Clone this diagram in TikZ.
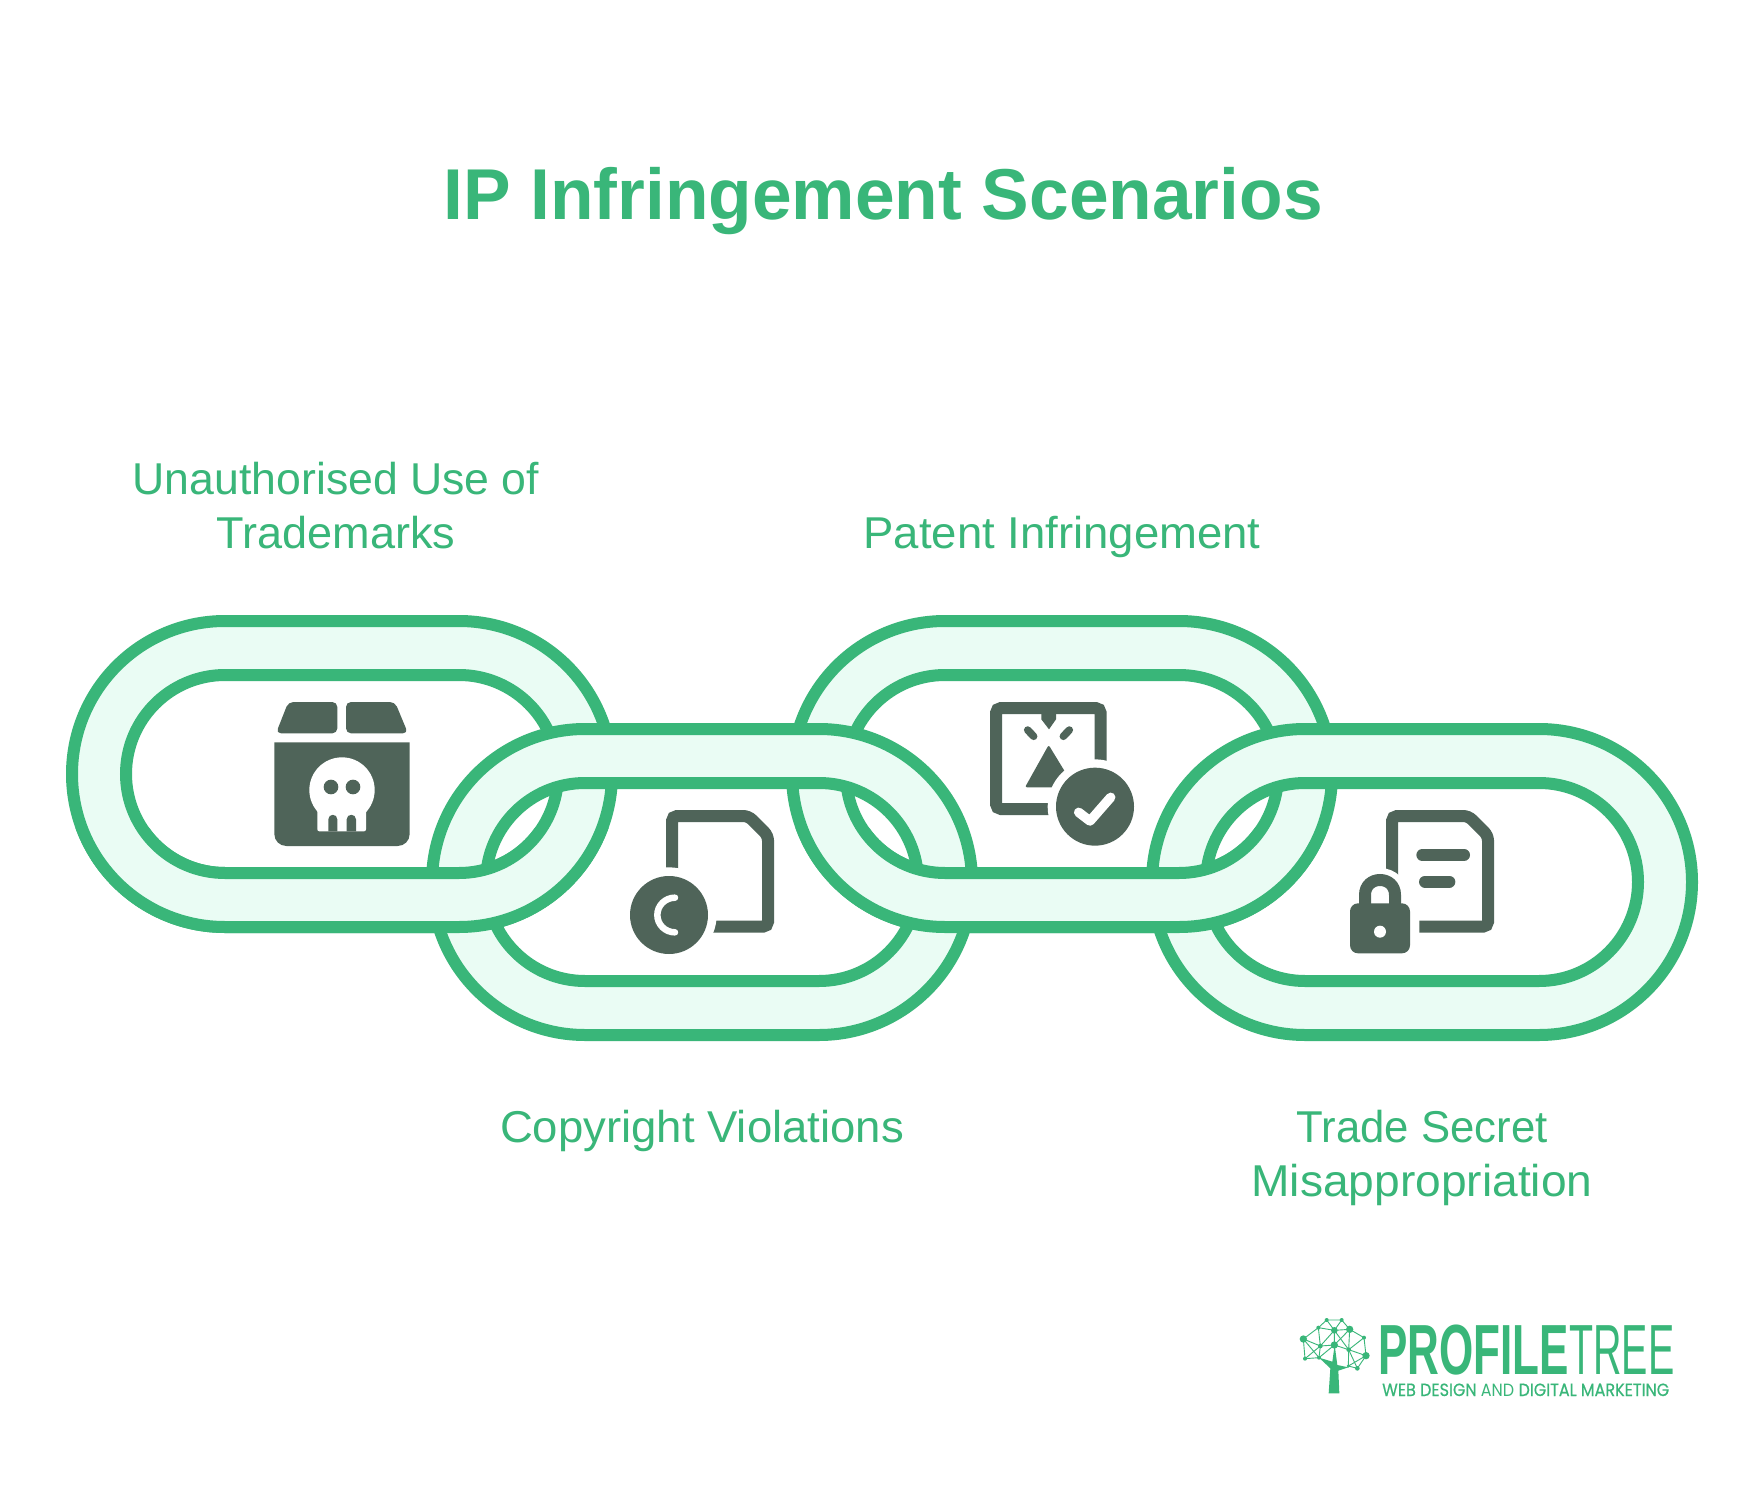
\documentclass[tikz,border=0pt]{standalone}
\usepackage{fontspec}
\setmainfont{Liberation Sans}
\newfontfamily\popfont{Poppins}
\newfontfamily\popmed[FakeBold=0.5]{Poppins}
\definecolor{lk}{HTML}{39B679}
\definecolor{lkfill}{HTML}{EAFCF4}
\definecolor{ic}{HTML}{4F6459}
\definecolor{tx}{HTML}{39B679}
\tikzset{
  ringstyle/.style={draw=lk,line width=12pt,fill=lkfill,even odd rule},
  lbl/.style={text=tx,font=\fontsize{44.6}{54}\selectfont,align=center,inner sep=0pt,anchor=base},
  icl/.style={draw=ic,line width=12pt,line cap=butt,rounded corners=5pt},
  icz/.style={x=0.33333pt,y=-0.33333pt},
  lnode/.style={fill=tx,draw=none},
  lline/.style={draw=tx,line width=0.9pt},
  logotext/.style={inner sep=0pt,anchor=base west,text=tx}
}
\newcommand{\ringpath}[2]{%
  \path[ringstyle] (#1-153,#2-153) [rounded corners=153pt] rectangle (#1+234+153,#2+153)
    [rounded corners=99pt] (#1-99,#2-99) rectangle (#1+234+99,#2+99);}
\begin{document}
\begin{tikzpicture}[x=1pt,y=-1pt]
\useasboundingbox (0,0) rectangle (1764,1495);
\fill[white] (0,0) rectangle (1764,1495);
% odd links beneath
\ringpath{225}{774}
\ringpath{945}{774}
% even links
\ringpath{585}{882}
\ringpath{1305}{882}
% lower parts of odd links on top
\begin{scope}
\clip (0,828) rectangle (1764,1000);
\ringpath{225}{774}
\ringpath{945}{774}
\end{scope}
% texts
\node[text=tx,font=\bfseries\fontsize{72}{80}\selectfont,inner sep=0pt,anchor=base] (title) at (883,220) {\scalebox{0.99}[1]{IP Infringement Scenarios}};
\node[lbl] (t1a) at (336,494) {Unauthorised Use of};
\node[lbl] (t1b) at (336,548) {\scalebox{1.01}[1]{Trademarks}};
\node[lbl] (t3) at (1062,548) {\scalebox{1.02}[1]{Patent Infringement}};
\node[lbl] (t2) at (702,1142) {\scalebox{1.02}[1]{Copyright Violations}};
\node[lbl] (t4a) at (1422,1142) {\scalebox{0.98}[1]{Trade Secret}};
\node[lbl] (t4b) at (1422,1196) {\scalebox{1.034}[1]{Misappropriation}};
% icon 1
\begin{scope}[shift={(260,690)},icz]
\fill[ic,rounded corners=5pt] (48,130) -- (232,130) -- (232,36) -- (85,36) -- cycle;
\fill[ic,rounded corners=5pt] (258,130) -- (444,130) -- (405,36) -- (258,36) -- cycle;
\fill[ic] (43,157) -- (449,157) -- (449,432) .. controls (449,452) and (433,468) .. (413,468) -- (79,468) .. controls (59,468) and (43,452) .. (43,432) -- cycle;
\fill[white] (246,300) circle[radius=98];
\fill[white,rounded corners=2pt] (172,340) rectangle (318,424);
\fill[ic] (205,424) -- (205,388) .. controls (205,370) and (232,370) .. (232,388) -- (232,424) -- cycle;
\fill[ic] (260,424) -- (260,388) .. controls (260,370) and (288,370) .. (288,388) -- (288,424) -- cycle;
\fill[ic] (213,291) circle[radius=22];
\fill[ic] (279,291) circle[radius=22];
\end{scope}
% icon 2
\begin{scope}[shift={(620,800)},icz]
\draw[icl] (156,250) -- (156,48) -- (385,48) -- (444,107) -- (444,380) -- (250,380);
\fill[white] (147,345) circle[radius=143];
\fill[ic] (147,345) circle[radius=117];
\draw[white,line width=6.5pt,line cap=round] (165,293) .. controls (136,293) and (112,316) .. (112,345) .. controls (112,374) and (136,397) .. (165,397);
\end{scope}
% icon 3
\begin{scope}[shift={(980,690)},icz]
\draw[icl] (362,250) -- (362,54) -- (48,54) -- (48,357) -- (250,357);
\fill[ic] (184,60) -- (228,60) -- (228,88) -- (207,118) -- (184,88) -- cycle;
\draw[ic,line width=7.5pt,line cap=round] (143,120) -- (161,139);
\draw[ic,line width=7.5pt,line cap=round] (268,120) -- (250,139);
\fill[ic,rounded corners=2pt] (206,165) -- (270,270) -- (270,292) -- (135,292) -- cycle;
\fill[white] (345,350) circle[radius=142];
\fill[ic] (345,350) circle[radius=117];
\draw[white,line width=9.5pt,line cap=round,line join=round] (296,367) -- (330,393) -- (392,322);
\end{scope}
% icon 4
\begin{scope}[shift={(1340,800)},icz]
\draw[icl] (156,250) -- (156,48) -- (385,48) -- (444,107) -- (444,380) -- (238,380);
\draw[ic,line width=12pt,line cap=round] (247,165) -- (372,165);
\draw[ic,line width=12pt,line cap=round] (255,245) -- (328,245);
\fill[white,rounded corners=8pt] (10,290) rectangle (230,480);
\fill[white] (120,290) circle[radius=86];
\draw[ic,line width=12pt] (75,320) -- (75,285) .. controls (75,225) and (165,225) .. (165,285) -- (165,320);
\fill[ic,rounded corners=8pt] (30,310) rectangle (210,460);
\fill[white] (120,395) circle[radius=18];
\end{scope}
% logo tree
\begin{scope}[shift={(1290,1310)},icz]
\foreach \n/\a/\b in {a/110/30,b/155/30,c/85/53,d/133/61,e/179/58,f/222/83,g/40/87,h/91/108,i/133/105,j/176/119,k/228/137,l/45/146,m/87/143,n/175/168,o/202/175}{\coordinate (p\n) at (\a,\b);}
\draw[lline] (pa)--(pb)--(pe)--(pf)--(pk)--(po)--(pn)--(pj)--(pi)--(pm)--(pl)--(pg)--(pc)--(pa)--(pd)--(pb);
\draw[lline] (pd)--(pe)--(pj)--(pf);
\draw[lline] (pj)--(pk)--(pn);
\draw[lline] (pj)--(po);
\draw[lline] (pc)--(pd)--(ph)--(pg);
\draw[lline] (pc)--(ph)--(pl);
\draw[lline] (ph)--(pm)--(pg);
\draw[lline] (pd)--(pi)--(ph);
\draw[lline] (pd)--(pj);
\draw[lline] (pe)--(pi);
\foreach \n/\r in {a/6,b/6,c/6,d/10,e/11,f/6,g/11,h/7,i/11,j/7,k/11,l/6,m/6,n/5,o/7}{\fill[lnode] (p\n) circle[radius=\r];}
\fill[lnode] (116,250) -- (148,250) -- (145,182) -- (175,172) -- (142,165) -- (134,105) -- (127,155) -- (87,143) -- (121,175) -- cycle;
\end{scope}
% logo text
\node[logotext] (logoa) at (1378,1374) {\scalebox{0.62}[1]{\bfseries\fontsize{71}{71}\selectfont PROFILE}};
\node[logotext] (logob) at (1569,1374) {\scalebox{0.555}[1]{\fontsize{71}{71}\selectfont TREE}};
\node[logotext] (logoc) at (1382,1396) {\resizebox{287pt}{12.5pt}{\fontsize{18}{18}\selectfont\popmed WEB DESIGN {\popfont AND} DIGITAL MARKETING}};
\end{tikzpicture}
\end{document}
